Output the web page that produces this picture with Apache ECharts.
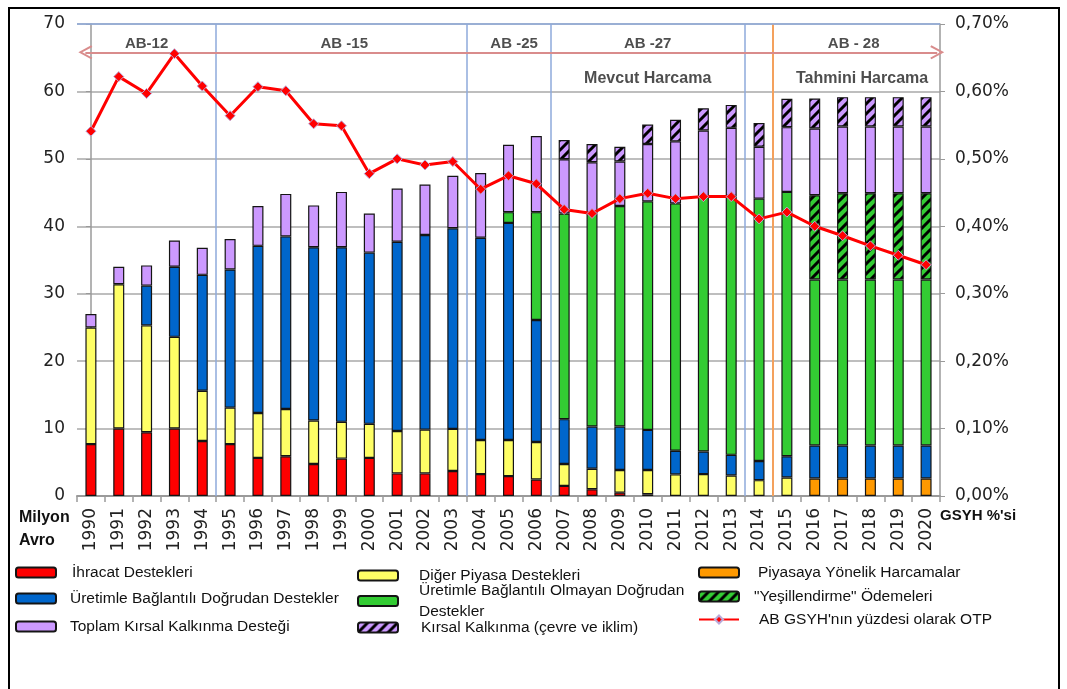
<!DOCTYPE html>
<html>
<head>
<meta charset="utf-8">
<script src="https://cdn.jsdelivr.net/npm/echarts@6/dist/echarts.min.js"></script>
<style>
  html, body { margin: 0; padding: 0; background: #fff; }
  #chart { width: 1067px; height: 689px; }
</style>
</head>
<body>
<div id="chart"></div>
<script>
// yıllar
var years = ['1990', '1991', '1992', '1993', '1994', '1995', '1996', '1997', '1998', '1999',
  '2000', '2001', '2002', '2003', '2004', '2005', '2006', '2007', '2008', '2009', '2010',
  '2011', '2012', '2013', '2014', '2015', '2016', '2017', '2018', '2019', '2020']

// milyon avro (yığın katmanları, alttan üste)
var ihracat = [7.7, 10.0, 9.45, 10.0, 8.15, 7.7, 5.65, 5.9, 4.75, 5.55, 5.65, 3.35, 3.35, 3.7, 3.25, 2.95, 2.45, 1.5, 1.0, 0.5, 0.25,
  null, null, null, null, null, null, null, null, null, null]
var digerPiyasa = [17.3, 21.4, 15.85, 13.6, 7.45, 5.4, 6.65, 7.0, 6.45, 5.45, 5.05, 6.3, 6.5, 6.25, 5.05, 5.35, 5.55, 3.25, 3.05, 3.35, 3.6,
  3.2, 3.25, 3.05, 2.35, 2.75, null, null, null, null, null]
var piyasaya = [null, null, null, null, null, null, null, null, null, null, null, null, null, null, null, null, null, null, null, null, null,
  null, null, null, null, null, 2.6, 2.6, 2.6, 2.6, 2.6]
var baglantili = [null, null, 5.9, 10.4, 17.2, 20.5, 24.8, 25.6, 25.7, 25.9, 25.4, 28.05, 28.85, 29.75, 30.0, 32.2, 18.1, 6.65, 6.25, 6.45, 5.95,
  3.5, 3.35, 3.05, 2.85, 3.15, 4.9, 4.9, 4.9, 4.9, 4.9]
var baglantisiz = [null, null, null, null, null, null, null, null, null, null, null, null, null, null, null, 1.6, 16.0, 30.5, 31.6, 32.7, 33.9,
  36.7, 37.8, 38.4, 38.9, 39.2, 24.6, 24.6, 24.6, 24.6, 24.6]
var yesillendirme = [null, null, null, null, null, null, null, null, null, null, null, null, null, null, null, null, null, null, null, null, null,
  null, null, null, null, null, 12.5, 12.8, 12.8, 12.8, 12.8]
var kirsal = [2.0, 2.6, 3.0, 3.9, 4.0, 4.5, 5.9, 6.3, 6.2, 8.2, 5.8, 7.9, 7.5, 7.8, 9.6, 10.0, 11.3, 8.05, 7.6, 6.6, 8.5,
  9.2, 9.8, 10.1, 7.7, 9.6, 9.9, 9.9, 9.9, 9.9, 9.9]
var kirsalCevre = [null, null, null, null, null, null, null, null, null, null, null, null, null, null, null, null, null, 2.85, 2.7, 2.2, 2.9,
  3.2, 3.3, 3.4, 3.5, 4.2, 4.45, 4.35, 4.35, 4.35, 4.35]

// AB GSYH'nın yüzdesi (%)
var gsyhPay = [0.541, 0.622, 0.597, 0.656, 0.608, 0.564, 0.607, 0.601, 0.552, 0.549, 0.478, 0.500, 0.491, 0.496, 0.455, 0.475, 0.463,
  0.425, 0.419, 0.441, 0.449, 0.441, 0.444, 0.444, 0.411, 0.421, 0.400, 0.386, 0.371, 0.357, 0.343]

// dönem ayrımları (kategori indeksleri arası)
var donemSinirlari = [4.5, 13.5, 16.5, 23.5]
var tahminSiniri = 24.5
var donemAdlari = ['AB-12', 'AB -15', 'AB -25', 'AB -27', 'AB - 28']
var donemMerkez = [2, 9.1, 15.2, 20, 27.4]
var harcamaAdlari = ['Mevcut Harcama', 'Tahmini Harcama']
var harcamaMerkez = [20, 27.7]

var names = {
  ihracat: 'İhracat Destekleri',
  diger: 'Diğer Piyasa Destekleri',
  piyasaya: 'Piyasaya Yönelik Harcamalar',
  baglantili: 'Üretimle Bağlantılı Doğrudan Destekler',
  baglantisiz: 'Üretimle Bağlantılı Olmayan Doğrudan Destekler',
  yesil: '"Yeşillendirme" Ödemeleri',
  kirsal: 'Toplam Kırsal Kalkınma Desteği',
  cevre: 'Kırsal Kalkınma (çevre ve iklim)',
  line: "AB GSYH'nın yüzdesi olarak OTP"
}

// taralı desen
function hatch (base) {
  var c = document.createElement('canvas')
  c.width = 10
  c.height = 10
  var g = c.getContext('2d')
  g.fillStyle = base
  g.fillRect(0, 0, 10, 10)
  g.strokeStyle = '#000'
  g.lineWidth = 3
  g.beginPath()
  g.moveTo(-2, 12); g.lineTo(12, -2)
  g.moveTo(-2, 2); g.lineTo(2, -2)
  g.moveTo(8, 12); g.lineTo(12, 8)
  g.stroke()
  return { image: c, repeat: 'repeat' }
}

var chart = echarts.init(document.getElementById('chart'))

function barSeries (name, data, color) {
  return {
    name: name,
    type: 'bar',
    stack: 'toplam',
    barWidth: 11,
    data: data,
    itemStyle: { color: color, borderColor: '#141414', borderWidth: 1.2 },
    emphasis: { disabled: true }
  }
}

var tickFont = 'DejaVu Sans'
var legendBase = {
  padding: 0,
  itemWidth: 40,
  itemHeight: 10,
  icon: 'roundRect',
  selectedMode: false,
  textStyle: { fontFamily: 'Liberation Sans', fontSize: 15.5, color: '#111', lineHeight: 17 }
}
function legendAt (name, left, top, padLeft, extra) {
  var l = Object.assign({}, legendBase, { data: [name], left: left, top: top })
  l.textStyle = Object.assign({}, legendBase.textStyle, { padding: [0, 0, 0, padLeft] }, extra || {})
  return l
}

var option = {
  backgroundColor: '#fff',
  animation: false,
  grid: { left: 77, right: 127, top: 24, bottom: 193 },
  legend: [
    legendAt(names.ihracat, 15, 564, 11),
    legendAt(names.baglantili, 15, 590, 9),
    legendAt(names.kirsal, 15, 618, 9),
    legendAt(names.diger, 357, 567, 16),
    Object.assign(legendAt(names.baglantisiz, 357, 580, 16, { lineHeight: 21 }), {
      formatter: function (n) { return n.replace('Doğrudan ', 'Doğrudan\n') }
    }),
    legendAt(names.cevre, 357, 619, 18),
    legendAt(names.piyasaya, 698, 564, 14),
    legendAt(names.yesil, 698, 588, 10),
    Object.assign(legendAt(names.line, 698, 611, 15), { icon: null })
  ],
  xAxis: [
    {
      type: 'category',
      data: years,
      axisLine: { lineStyle: { color: '#9a9a9a', width: 2 } },
      axisTick: { show: true, length: 6, lineStyle: { color: '#9a9a9a', width: 1.5 } },
      axisLabel: { rotate: 90, margin: 12, fontFamily: tickFont, fontSize: 17, color: '#222', interval: 0 }
    },
    { type: 'value', min: -0.5, max: 30.5, show: false }
  ],
  yAxis: [
    {
      type: 'value',
      min: 0,
      max: 70,
      interval: 10,
      axisLine: { show: true, lineStyle: { color: '#9a9a9a', width: 1.5 } },
      axisTick: { show: true, length: 5, lineStyle: { color: '#9a9a9a' } },
      axisLabel: { margin: 12, fontFamily: tickFont, fontSize: 17, color: '#222' },
      splitLine: { lineStyle: { color: '#a8a8a8', width: 1.5 } }
    },
    {
      type: 'value',
      min: 0,
      max: 0.7,
      interval: 0.1,
      position: 'right',
      axisLine: { show: true, lineStyle: { color: '#9a9a9a', width: 1.5 } },
      axisTick: { show: true, length: 5, lineStyle: { color: '#9a9a9a' } },
      axisLabel: {
        margin: 15, fontFamily: tickFont, fontSize: 17, color: '#222',
        formatter: function (v) { return v.toFixed(2).replace('.', ',') + '%' }
      },
      splitLine: { show: false }
    }
  ],
  series: [
    barSeries(names.ihracat, ihracat, '#ff0000'),
    barSeries(names.diger, digerPiyasa, '#ffff66'),
    barSeries(names.piyasaya, piyasaya, '#ff9900'),
    barSeries(names.baglantili, baglantili, '#0066cc'),
    barSeries(names.baglantisiz, baglantisiz, '#33cc33'),
    barSeries(names.yesil, yesillendirme, hatch('#33cc33')),
    barSeries(names.kirsal, kirsal, '#cc99ff'),
    barSeries(names.cevre, kirsalCevre, hatch('#cc99ff')),
    {
      name: names.line,
      type: 'line',
      yAxisIndex: 1,
      data: gsyhPay,
      symbol: 'diamond',
      symbolSize: 10,
      z: 5,
      lineStyle: { color: '#ff0000', width: 3 },
      itemStyle: { color: '#ff0000', borderColor: '#b9a8d8', borderWidth: 1 },
      emphasis: { disabled: true }
    },
    // dönem çizgileri, ok ve etiketler
    {
      type: 'scatter',
      xAxisIndex: 1,
      yAxisIndex: 0,
      symbolSize: 0,
      silent: true,
      z: 1,
      data: donemAdlari.map(function (n, i) { return { name: n, value: [donemMerkez[i], 67.0] } }),
      label: {
        show: true, position: 'inside', formatter: '{b}',
        fontFamily: 'Liberation Sans', fontWeight: 'bold', fontSize: 15, color: '#222'
      },
      markLine: {
        silent: true,
        symbol: 'none',
        label: { show: false },
        data: donemSinirlari.map(function (x) {
          return { xAxis: x, lineStyle: { color: '#8eaadb', width: 1.5, type: 'solid' } }
        }).concat([
          { xAxis: tahminSiniri, lineStyle: { color: '#f4a15d', width: 2, type: 'solid' } },
          { yAxis: 70, lineStyle: { color: '#8eaadb', width: 1.5, type: 'solid' } },
          [
            {
              coord: [-0.2, 65.8],
              symbol: 'path://M5,0 L10,9 L8.8,9.8 L5,2.8 L1.2,9.8 L0,9 Z',
              symbolSize: [14, 14],
              lineStyle: { color: '#d98c8c', width: 2, type: 'solid' }
            },
            {
              coord: [30.4, 65.8],
              symbol: 'path://M5,0 L10,9 L8.8,9.8 L5,2.8 L1.2,9.8 L0,9 Z',
              symbolSize: [14, 14]
            }
          ]
        ])
      }
    },
    {
      type: 'scatter',
      xAxisIndex: 1,
      yAxisIndex: 0,
      symbolSize: 0,
      silent: true,
      data: harcamaAdlari.map(function (n, i) { return { name: n, value: [harcamaMerkez[i], 61.85] } }),
      label: {
        show: true, position: 'inside', formatter: '{b}',
        fontFamily: 'Liberation Sans', fontWeight: 'bold', fontSize: 16, color: '#222'
      }
    }
  ],
  graphic: [
    {
      type: 'rect',
      shape: { x: 9, y: 8, width: 1050, height: 700 },
      style: { fill: 'none', stroke: '#000', lineWidth: 2 },
      silent: true
    },
    {
      type: 'text', left: 19, top: 506,
      style: { text: 'Milyon\nAvro', fontFamily: 'Liberation Sans', fontWeight: 'bold', fontSize: 16, lineHeight: 23, fill: '#111' }
    },
    {
      type: 'text', left: 940, top: 508,
      style: { text: "GSYH %'si", fontFamily: 'Liberation Sans', fontWeight: 'bold', fontSize: 15, fill: '#111' }
    }
  ]
}

chart.setOption(option)
window.addEventListener('resize', function () {
  chart.resize()
})
</script>
</body>
</html>
